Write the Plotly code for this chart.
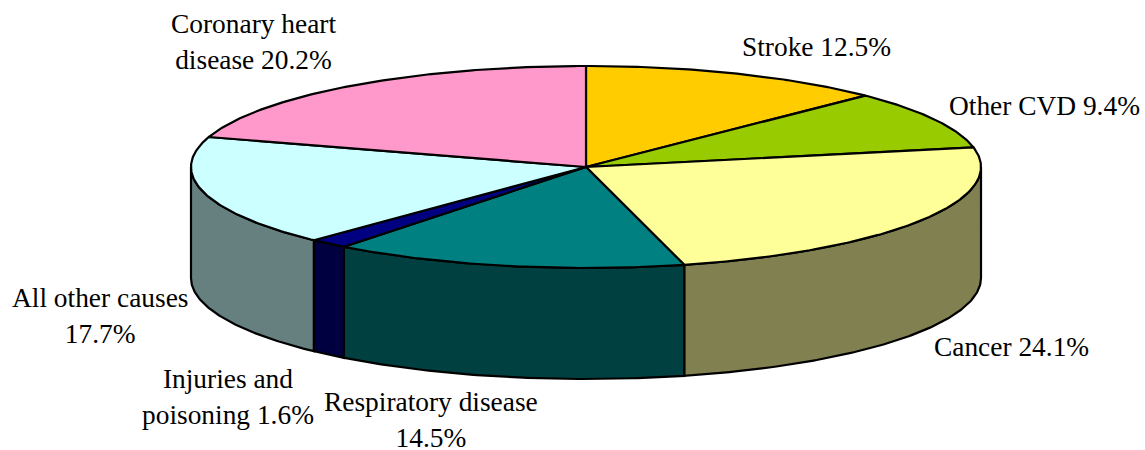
import math
import plotly.graph_objects as go

categories = ["Stroke", "Other CVD", "Cancer", "Respiratory disease",
              "Injuries and poisoning", "All other causes", "Coronary heart disease"]
values = [12.5, 9.4, 24.1, 14.5, 1.6, 17.7, 20.2]
top_colors = ["#FFCC00", "#99CC00", "#FFFF99", "#008080", "#000080", "#CCFFFF", "#FF99CC"]
side_colors = ["#806600", "#4D6600", "#808050", "#004040", "#000040", "#668080", "#804D66"]
labels = ["Stroke 12.5%", "Other CVD 9.4%", "Cancer 24.1%",
          "Respiratory disease<br>14.5%", "Injuries and<br>poisoning 1.6%",
          "All other causes<br>17.7%", "Coronary heart<br>disease 20.2%"]
label_x = [816.5, 1044, 1011, 431, 228, 100, 253]
label_y = [47, 106, 347, 420, 397, 316, 42]

CX, CY, RX, RY, DEPTH = 586, 167, 395, 101, 111
LINE = dict(color="black", width=2.2)


def pt(a, dy=0):
    return CX + RX * math.sin(a), CY + RY * math.cos(a) * -1 + dy


def arc(a0, a1, dy=0):
    n = max(2, int(abs(a1 - a0) / 0.01))
    return [pt(a0 + (a1 - a0) * i / n, dy) for i in range(n + 1)]


fig = go.Figure()
total = sum(values)
edges = [0.0]
for v in values:
    edges.append(edges[-1] + v / total * 2 * math.pi)

# Side walls (only the front half of the ellipse is visible)
for i, (a0, a1) in enumerate(zip(edges[:-1], edges[1:])):
    s0, s1 = max(a0, math.pi / 2), min(a1, 3 * math.pi / 2)
    if s1 <= s0:
        continue
    upper = arc(s0, s1)
    lower = arc(s1, s0, DEPTH)
    poly = upper + lower + [upper[0]]
    fig.add_trace(go.Scatter(x=[p[0] for p in poly], y=[p[1] for p in poly], mode="lines",
                             fill="toself", fillcolor=side_colors[i], line=LINE,
                             hoverinfo="skip", showlegend=False))

# Top faces
for i, (a0, a1) in enumerate(zip(edges[:-1], edges[1:])):
    poly = [(CX, CY)] + arc(a0, a1) + [(CX, CY)]
    fig.add_trace(go.Scatter(x=[p[0] for p in poly], y=[p[1] for p in poly], mode="lines",
                             fill="toself", fillcolor=top_colors[i], line=LINE,
                             name=categories[i], showlegend=False))

for t, x, y in zip(labels, label_x, label_y):
    fig.add_annotation(x=x, y=y, text=t, showarrow=False, xanchor="center", yanchor="middle",
                       font=dict(family="Liberation Serif", size=27.4, color="black"))

fig.update_xaxes(range=[0, 1145], visible=False)
fig.update_yaxes(range=[450, 0], visible=False)
fig.update_layout(width=1145, height=450, margin=dict(l=0, r=0, t=0, b=0),
                  paper_bgcolor="white", plot_bgcolor="white")
fig.write_html("out.html", config={"displayModeBar": False},
               post_script="document.body.style.margin='0';")
